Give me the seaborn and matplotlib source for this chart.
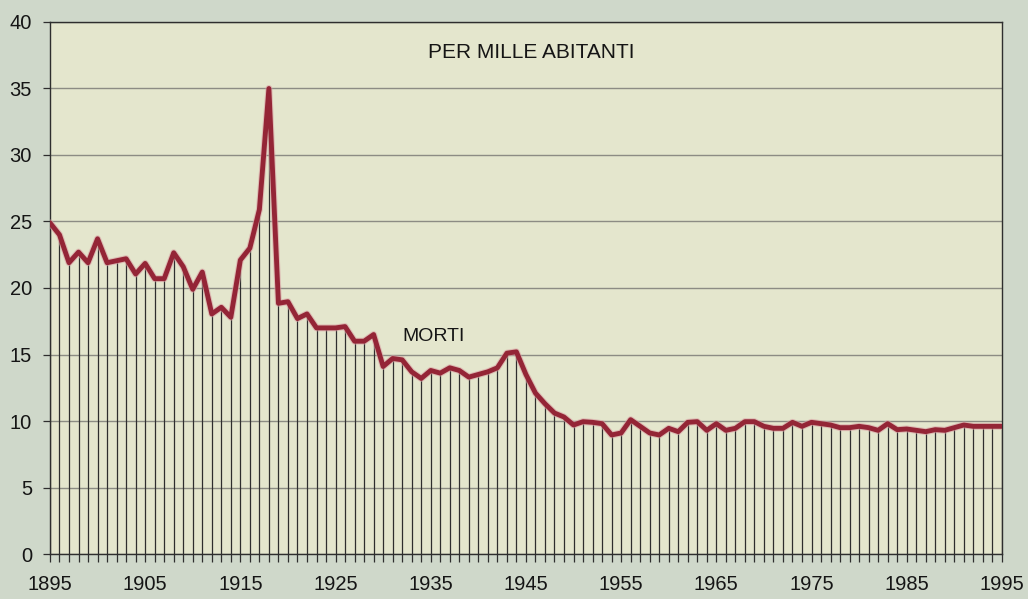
import matplotlib
matplotlib.use("Agg")
import matplotlib.pyplot as plt
import matplotlib.patheffects as pe
import seaborn as sns
import numpy as np
import pandas as pd
from matplotlib.ticker import MultipleLocator

years = list(range(1895, 1996))
morti = [
    24.9, 24.0, 21.9, 22.7, 21.9, 23.7, 21.9, 22.05, 22.2, 21.05,
    21.85, 20.7, 20.7, 22.65, 21.6, 19.9, 21.2, 18.05, 18.55, 17.8,
    22.1, 23.0, 25.9, 35.0, 18.85, 18.97, 17.7, 18.05, 17.0, 17.0,
    17.0, 17.1, 16.0, 16.0, 16.5, 14.1, 14.7, 14.6, 13.7, 13.2,
    13.8, 13.6, 14.0, 13.8, 13.3, 13.5, 13.7, 14.0, 15.1, 15.2,
    13.5, 12.1, 11.3, 10.6, 10.3, 9.7, 9.95, 9.9, 9.8, 8.95,
    9.1, 10.1, 9.6, 9.1, 8.95, 9.45, 9.2, 9.9, 9.95, 9.3,
    9.8, 9.3, 9.45, 9.95, 9.95, 9.6, 9.45, 9.45, 9.9, 9.6,
    9.9, 9.8, 9.7, 9.5, 9.5, 9.6, 9.5, 9.3, 9.8, 9.35,
    9.4, 9.3, 9.2, 9.35, 9.3, 9.5, 9.7, 9.6, 9.6, 9.6,
    9.6,
]
x_labels = list(range(1895, 1996, 10))
y_labels = list(range(0, 41, 5))
title_text = "PER MILLE ABITANTI"
series_label = "MORTI"

df = pd.DataFrame({"anno": years, "morti": morti})

sns.set_theme(style="white")
plt.rcParams["font.family"] = ["Liberation Sans", "DejaVu Sans"]

fig = plt.figure(figsize=(10.28, 5.99), dpi=100)
fig.patch.set_facecolor("#cfd8ca")
ax = fig.add_axes([0.0486, 0.0751, 0.926, 0.8882])
ax.set_facecolor("#e4e6cd")

# grid lines
for v in y_labels:
    ax.axhline(v, color="#8c8c84", lw=1.0, zorder=1)

# drop lines
ax.vlines(df["anno"], 0, df["morti"], color="#2e2e2e", lw=0.9, zorder=2)

sns.lineplot(data=df, x="anno", y="morti", ax=ax, color="#942536",
             lw=3.5, zorder=4, solid_joinstyle="round", solid_capstyle="round",
             path_effects=[pe.Stroke(linewidth=5.0, foreground="#d9a0a4", alpha=0.6),
                           pe.Normal()])

ax.set_xlim(1895, 1995)
ax.set_ylim(0, 40)
ax.set_xticks(x_labels)
ax.xaxis.set_minor_locator(MultipleLocator(1))
ax.set_yticks(y_labels)
ax.set_xlabel("")
ax.set_ylabel("")
ax.tick_params(axis="x", which="both", direction="out", length=6, width=0.9,
               color="#2e2e2e", labelsize=14.5, pad=9, bottom=True)
ax.tick_params(axis="y", which="major", direction="out", length=5, width=0.9,
               color="#2e2e2e", labelsize=14.5, pad=8, left=True)
for lab in ax.get_xticklabels() + ax.get_yticklabels():
    lab.set_color("#151515")

for s in ax.spines.values():
    s.set_color("#2e2e2e")
    s.set_linewidth(1.0)
    s.set_visible(True)

ax.text(1945.6, 37.7, title_text, ha="center", va="center", fontsize=15,
        color="#151515", zorder=5)
ax.text(1935.3, 16.35, series_label, ha="center", va="center", fontsize=14,
        color="#151515", zorder=5)

fig.savefig("out.png", dpi=100, facecolor=fig.get_facecolor())
